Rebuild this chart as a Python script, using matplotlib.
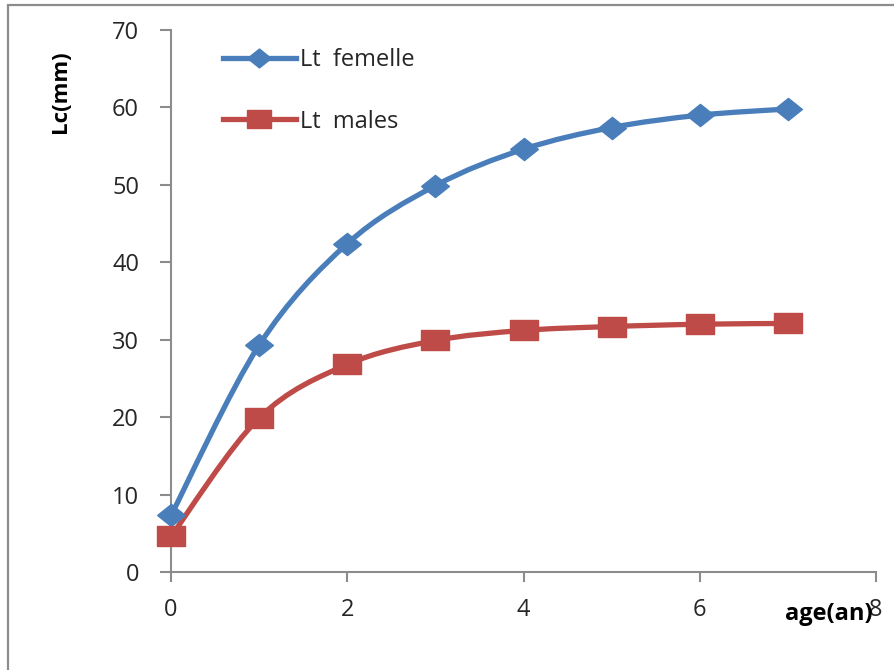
"""Growth curves Lt by age: femelle vs males (smoothed lines with markers)."""

import matplotlib.pyplot as plt
from matplotlib.lines import Line2D
from matplotlib.patches import PathPatch, Rectangle
from matplotlib.path import Path

plt.rcParams["font.family"] = ["Open Sans", "DejaVu Sans"]

age = [0, 1, 2, 3, 4, 5, 6, 7]
lt_femelle = [7.3, 29.3, 42.4, 49.9, 54.6, 57.4, 59.0, 59.8]
lt_males = [4.6, 19.9, 26.8, 29.9, 31.2, 31.7, 32.0, 32.1]

x_ticks = [0, 2, 4, 6, 8]
y_ticks = [0, 10, 20, 30, 40, 50, 60, 70]

BLUE = "#4A7EBB"
RED = "#BE4B48"
AXIS_GREY = "#8C8C8C"
TEXT = "#262626"

# wide diamond / wide square, like the stretched Excel markers
DIAMOND = [(-1, 0), (0, 0.8), (1, 0), (0, -0.8), (-1, 0)]
SQUARE = [(-1, -0.75), (1, -0.75), (1, 0.75), (-1, 0.75), (-1, -0.75)]


def smooth_path(x, y):
    """Catmull-Rom style cubic Bezier through the points (Excel 'smoothed line')."""
    pts = list(zip(x, y))
    n = len(pts)
    verts = [pts[0]]
    codes = [Path.MOVETO]
    for i in range(n - 1):
        p0 = pts[i - 1] if i > 0 else pts[i]
        p1 = pts[i]
        p2 = pts[i + 1]
        p3 = pts[i + 2] if i + 2 < n else pts[i + 1]
        c1 = (p1[0] + (p2[0] - p0[0]) / 6, p1[1] + (p2[1] - p0[1]) / 6)
        c2 = (p2[0] - (p3[0] - p1[0]) / 6, p2[1] - (p3[1] - p1[1]) / 6)
        verts += [c1, c2, p2]
        codes += [Path.CURVE4] * 3
    return Path(verts, codes)


fig = plt.figure(figsize=(8.94, 6.70), dpi=100)
ax = fig.add_axes([171 / 894, 98 / 670, 705 / 894, 542 / 670])

for ys, col, mk in [(lt_femelle, BLUE, DIAMOND), (lt_males, RED, SQUARE)]:
    ax.add_patch(PathPatch(smooth_path(age, ys), fill=False, edgecolor=col,
                           lw=3.8, capstyle="round", joinstyle="round", zorder=2))
    ax.plot(age, ys, linestyle="none", marker=mk, ms=20, color=col,
            mec=col, mew=1, zorder=3, clip_on=False)

ax.set_xlim(0, 8)
ax.set_ylim(0, 70)
ax.set_xticks(x_ticks)
ax.set_yticks(y_ticks)
for s in ["top", "right"]:
    ax.spines[s].set_visible(False)
for s in ["left", "bottom"]:
    ax.spines[s].set_color(AXIS_GREY)
    ax.spines[s].set_linewidth(1.5)
ax.tick_params(axis="y", direction="out", length=8, width=1.5, color=AXIS_GREY,
               pad=15, labelsize=17, labelcolor=TEXT)
ax.tick_params(axis="x", direction="out", length=7, width=1.5, color=AXIS_GREY,
               pad=12, labelsize=17, labelcolor=TEXT)

fig.text(60 / 894, 1 - 92 / 670, "Lc(mm)", rotation=90, ha="center", va="center",
         fontsize=16, fontweight="bold", color="black")
# axis title sits on top of the last tick label, as in the original layout
fig.text(829 / 894, 1 - 614 / 670, "age(an)", ha="center", va="center",
         fontsize=17, fontweight="bold", color="black")

handles = [
    Line2D([], [], color=BLUE, lw=3.8, marker=DIAMOND, ms=17, mec=BLUE),
    Line2D([], [], color=RED, lw=3.8, marker=SQUARE, ms=17, mec=RED),
]
fig.legend(handles, ["Lt  femelle", "Lt  males"], loc="upper left",
           bbox_to_anchor=(211 / 894, 1 - 36 / 670), frameon=False, fontsize=17,
           handlelength=3.1, handletextpad=0.15, labelspacing=1.6,
           borderpad=0, labelcolor=TEXT)

# grey chart-area border running off the right and bottom edges
fig.add_artist(Rectangle((8 / 894, -0.05), 1.0, 1.05 - 5 / 670,
                         transform=fig.transFigure, fill=False,
                         edgecolor=AXIS_GREY, lw=1.6))

fig.savefig("out.png", dpi=100)
